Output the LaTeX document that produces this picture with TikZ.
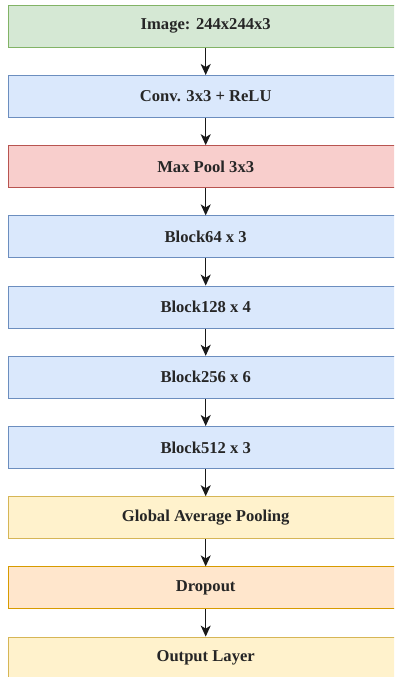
\documentclass[tikz,border=0pt]{standalone}
\usepackage{fontspec}
\setmainfont{Liberation Serif}
\usetikzlibrary{arrows.meta}

\definecolor{greenfill}{HTML}{D5E8D4}\definecolor{greenline}{HTML}{82B366}
\definecolor{bluefill}{HTML}{DAE8FC}\definecolor{blueline}{HTML}{6C8EBF}
\definecolor{redfill}{HTML}{F8CECC}\definecolor{redline}{HTML}{B85450}
\definecolor{yellowfill}{HTML}{FFF2CC}\definecolor{yellowline}{HTML}{D6B656}
\definecolor{orangefill}{HTML}{FFE6CC}\definecolor{orangeline}{HTML}{D79B00}

\tikzset{
  layer/.style={draw, line width=1pt, minimum width=394.4pt, minimum height=42pt,
    inner sep=0pt, font=\fontsize{16.6}{18}\selectfont\bfseries, text=black!85},
  inputbox/.style={layer, fill=greenfill, draw=greenline},
  convbox/.style={layer, fill=bluefill, draw=blueline},
  poolbox/.style={layer, fill=redfill, draw=redline},
  headbox/.style={layer, fill=yellowfill, draw=yellowline},
  dropbox/.style={layer, fill=orangefill, draw=orangeline},
  flow/.style={line width=1.3pt, black!90, -{Stealth[length=11pt,width=10pt,inset=3pt]}}
}

\begin{document}
\begin{tikzpicture}[x=1pt,y=1pt]
  \useasboundingbox (0,0) rectangle (394,-677);
  \clip (0,0) rectangle (394,-677);
  \fill[white] (0,0) rectangle (394,-677);

  \node[inputbox] (img)  at (205.7,-26.3) {Image: 244x244x3};
  \node[convbox]  (conv) at (205.7,-96.5) {Conv. 3x3 + ReLU};
  \node[poolbox]  (pool) at (205.7,-166.7) {Max Pool 3x3};
  \node[convbox]  (b64)  at (205.7,-236.9) {Block64 x 3};
  \node[convbox]  (b128) at (205.7,-307.1) {Block128 x 4};
  \node[convbox]  (b256) at (205.7,-377.3) {Block256 x 6};
  \node[convbox]  (b512) at (205.7,-447.5) {Block512 x 3};
  \node[headbox]  (gap)  at (205.7,-517.7) {Global Average Pooling};
  \node[dropbox]  (drop) at (205.7,-587.9) {Dropout};
  \node[headbox]  (out)  at (205.7,-658.1) {Output Layer};

  \foreach \a/\b in {img/conv, conv/pool, pool/b64, b64/b128, b128/b256,
                     b256/b512, b512/gap, gap/drop, drop/out}
    \draw[flow] (\a.south) -- (\b.north);
\end{tikzpicture}
\end{document}
